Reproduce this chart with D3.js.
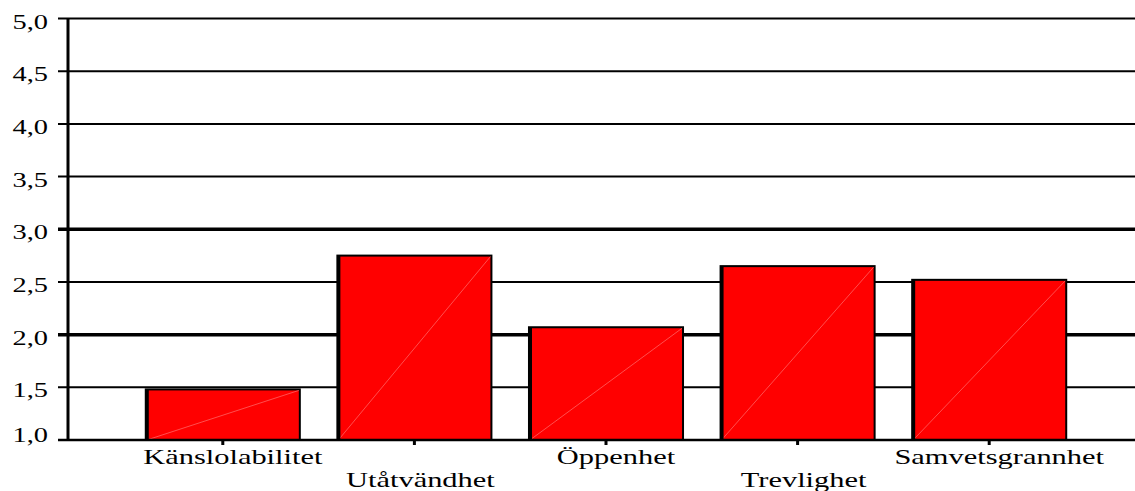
<!DOCTYPE html>
<html><head><meta charset="utf-8">
<script src="https://cdn.jsdelivr.net/npm/d3@7"></script>
<style>body{margin:0;background:#fff}svg{display:block}</style>
</head><body>
<svg id="c" width="1135" height="491"></svg>
<script>
const categories = ["Känslolabilitet","Utåtvändhet","Öppenhet","Trevlighet","Samvetsgrannhet"];
const values = [1.48, 2.75, 2.07, 2.65, 2.52];
const yTicks = [1.0,1.5,2.0,2.5,3.0,3.5,4.0,4.5,5.0];
const thickTicks = [2.0,3.0];

const FONT = "'Liberation Serif', 'DejaVu Serif', 'Times New Roman', serif";
const svg = d3.select("#c");
const x0 = 68, x1 = 1135, yTop = 18.5, yBot = 440;
const y = d3.scaleLinear().domain([1,5]).range([yBot, yTop]);
const x = d3.scaleBand().domain(categories).range([127, 1085]).paddingInner(0.196).paddingOuter(0.098);
const fmt = v => d3.format(".1f")(v).replace(".", ",");

// gridlines
svg.append("g").selectAll("line").data(yTicks.filter(t=>t>1)).join("line")
  .attr("x1", 58).attr("x2", x1).attr("y1", d=>y(d)).attr("y2", d=>y(d))
  .attr("stroke","#000").attr("stroke-width", d=>thickTicks.includes(d)?3.5:2);

// y labels
svg.append("g").selectAll("text").data(yTicks).join("text")
  .attr("transform", d=>`translate(48,${y(d) + (d===1?2:10)}) scale(1.42,1)`)
  .attr("text-anchor","end").attr("font-family",FONT).attr("font-size",20).text(fmt);

// bars
const bars = svg.append("g").selectAll("g").data(categories).join("g");
bars.append("rect")
  .attr("x", d=>x(d)).attr("y", (d,i)=>y(values[i]))
  .attr("width", x.bandwidth()).attr("height", (d,i)=>yBot - y(values[i]))
  .attr("fill","#ff0000").attr("stroke","#000").attr("stroke-width",2);
bars.append("line")
  .attr("x1", d=>x(d)+1).attr("y1", yBot)
  .attr("x2", d=>x(d)+x.bandwidth()-1).attr("y2", (d,i)=>y(values[i])+1)
  .attr("stroke","#ff7070").attr("stroke-width",0.7);
bars.append("line")
  .attr("x1", d=>x(d)+1.5).attr("x2", d=>x(d)+1.5)
  .attr("y1", (d,i)=>y(values[i])).attr("y2", yBot)
  .attr("stroke","#000").attr("stroke-width",3);

// axes lines
svg.append("line").attr("x1",58).attr("x2",x1).attr("y1",yBot).attr("y2",yBot).attr("stroke","#000").attr("stroke-width",2.5);
svg.append("line").attr("x1",x0).attr("x2",x0).attr("y1",yTop).attr("y2",yBot+1).attr("stroke","#000").attr("stroke-width",3);

// x ticks
svg.append("g").selectAll("line").data(categories).join("line")
  .attr("x1", d=>x(d)+x.bandwidth()/2).attr("x2", d=>x(d)+x.bandwidth()/2)
  .attr("y1", yBot).attr("y2", yBot+5).attr("stroke","#000").attr("stroke-width",3);

// x labels
svg.append("g").selectAll("text").data(categories).join("text")
  .attr("transform",(d,i)=>`translate(${x(d)+x.bandwidth()/2 + (i%2?6:10)},${i%2?487:464}) scale(1.45,1)`)
  .attr("text-anchor","middle").attr("font-family",FONT).attr("font-size",21).text(d=>d);
</script>
</body></html>
